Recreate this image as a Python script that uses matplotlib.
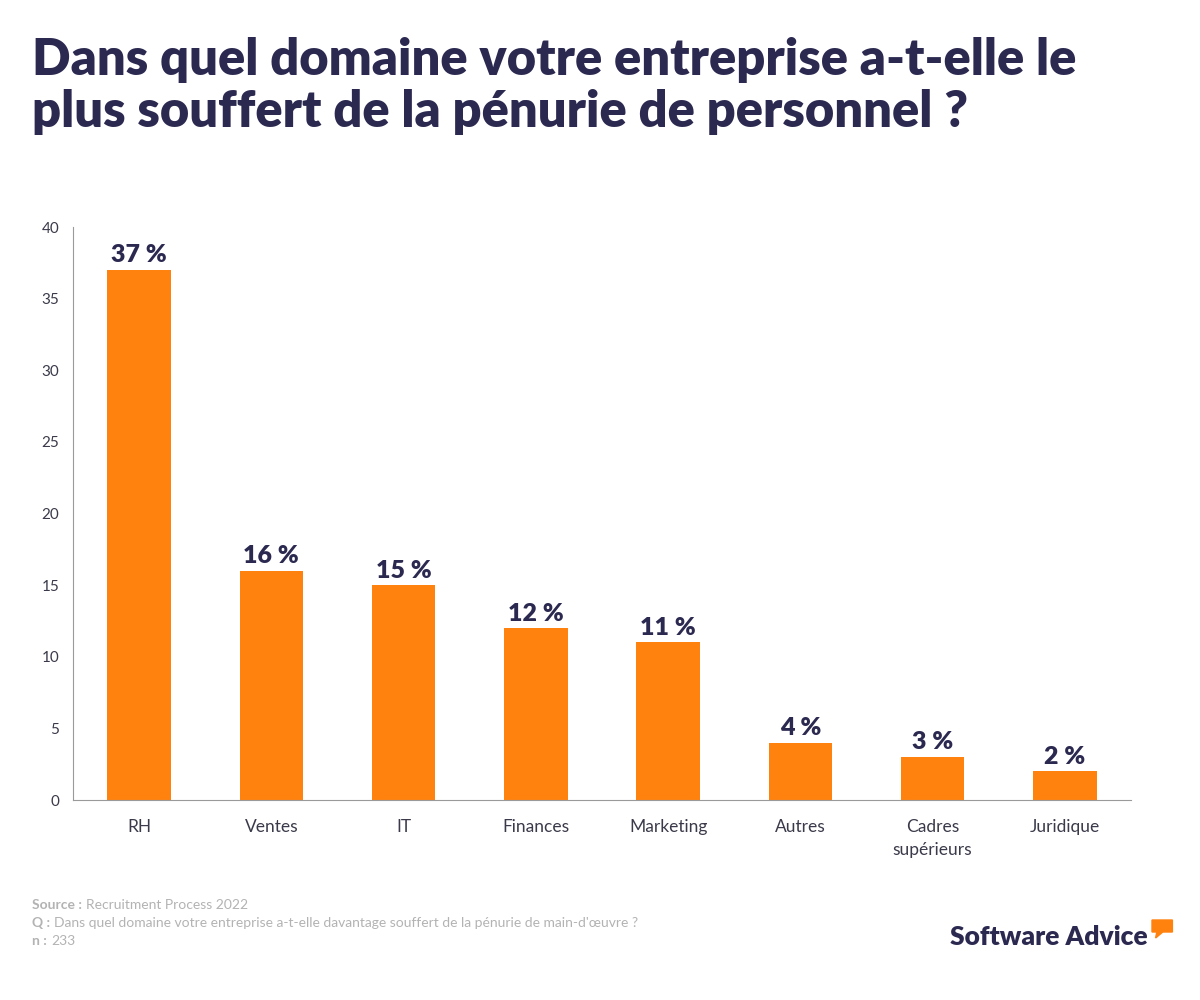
import matplotlib.pyplot as plt
from matplotlib.patches import Polygon

# data
categories = ["RH", "Ventes", "IT", "Finances", "Marketing", "Autres",
              "Cadres\nsupérieurs", "Juridique"]
values = [37, 16, 15, 12, 11, 4, 3, 2]
yticks = [0, 5, 10, 15, 20, 25, 30, 35, 40]

footer_keys = ["Source :", "Q :", "n :"]
footer_vals = ["Recruitment Process 2022",
               "Dans quel domaine votre entreprise a-t-elle davantage souffert de la pénurie de main-d'œuvre ?",
               "233"]

navy = "#2b2950"
orange = "#ff820f"
grey_txt = "#b3b3b3"

plt.rcParams['font.family'] = ['Lato', 'DejaVu Sans']

fig = plt.figure(figsize=(12, 10), dpi=100)
ax = fig.add_axes([0.0608, 0.2, 0.8817, 0.573])

x = list(range(len(categories)))
bars = ax.bar(x, values, width=0.48, color=orange)
for b, v in zip(bars, values):
    ax.text(b.get_x() + b.get_width() / 2, v + 0.25, f"{v} %", ha="center",
            va="bottom", fontsize=18, fontweight="heavy", color=navy)

ax.set_xlim(-0.5, len(categories) - 0.5)
ax.set_ylim(0, 40)
ax.set_yticks(yticks)
ax.set_xticks(x)
ax.set_xticklabels(categories, fontsize=12.5, color="#3a3a4a", linespacing=1.5,
                   va="top")
ax.tick_params(axis="y", length=0, labelsize=11, labelcolor="#3a3a4a", pad=10)
ax.tick_params(axis="x", length=0, pad=14)
for s in ["top", "right"]:
    ax.spines[s].set_visible(False)
ax.spines["left"].set_color("#9a9a9a")
ax.spines["bottom"].set_color("#9a9a9a")

# title
fig.text(0.027, 0.963, "Dans quel domaine votre entreprise a-t-elle le\nplus souffert de la pénurie de personnel ?",
         ha="left", va="top", fontsize=36.5, fontweight="heavy", color=navy,
         linespacing=1.15)

# footer: bold key then regular text right after it
renderer = fig.canvas.get_renderer()
for i, (k, v) in enumerate(zip(footer_keys, footer_vals)):
    yy = 0.091 - i * 0.018
    t = fig.text(0.027, yy, k, fontsize=10, fontweight="bold", color=grey_txt)
    bb = t.get_window_extent(renderer=renderer).transformed(fig.transFigure.inverted())
    fig.text(bb.x1 + 0.003, yy, v, fontsize=10, color=grey_txt)

# logo
fig.text(0.792, 0.055, "Software Advice", fontsize=19, fontweight="heavy", color=navy)
bubble = Polygon([(0.960, 0.080), (0.977, 0.080), (0.977, 0.068), (0.969, 0.068),
                  (0.963, 0.062), (0.964, 0.068), (0.960, 0.068)],
                 closed=True, transform=fig.transFigure, color=orange)
fig.patches.append(bubble)

fig.savefig("out.png", dpi=100, facecolor="white")
